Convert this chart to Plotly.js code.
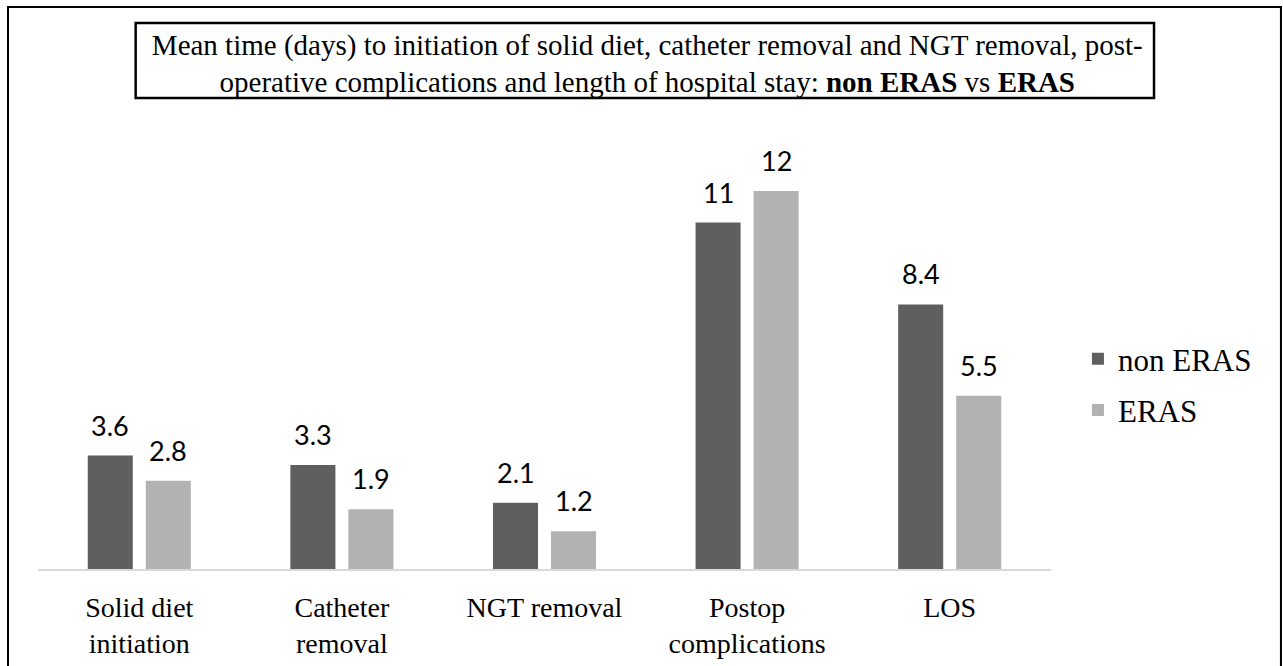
<!DOCTYPE html>
<html>
<head>
<meta charset="utf-8">
<script src="https://cdn.plot.ly/plotly-3.0.1.min.js"></script>
<style>html,body{margin:0;padding:0;background:#fff;}#chart{width:1283px;height:666px;}</style>
</head>
<body>
<div id="chart"></div>
<script>
const categories = ["Solid diet<br>initiation", "Catheter<br>removal", "NGT removal", "Postop<br>complications", "LOS"];
const nonEras = [3.6, 3.3, 2.1, 11, 8.4];
const eras = [2.8, 1.9, 1.2, 12, 5.5];
const seriesNames = ["non ERAS", "ERAS"];
const titleText = "Mean time (days) to initiation of solid diet, catheter removal and NGT removal, post-<br>operative complications and length of hospital stay: <b>non ERAS</b> vs <b>ERAS</b>";

const serif = "'Liberation Serif', 'Times New Roman', serif";
const sans = "Lato, Carlito, Calibri, sans-serif";

const traces = [
  {type: "bar", name: seriesNames[0], x: categories, y: nonEras, marker: {color: "#5f5f5f"}, legendgroup: "a", hoverinfo: "y"},
  {type: "bar", name: seriesNames[1], x: categories, y: eras, marker: {color: "#b2b2b2"}, legendgroup: "b", hoverinfo: "y"}
];

const annotations = [];
[nonEras, eras].forEach((vals, s) => {
  vals.forEach((v, i) => {
    annotations.push({
      x: categories[i], y: v, xref: "x", yref: "y",
      text: String(v), showarrow: false,
      xanchor: "center", yanchor: "bottom",
      xshift: s === 0 ? -29 : 29, yshift: 12,
      font: {family: sans, size: 27, color: "#000"}
    });
  });
});

const layout = {
  width: 1283, height: 666,
  margin: {l: 38, r: 232, t: 128, b: 97, pad: 0},
  paper_bgcolor: "#fff", plot_bgcolor: "#fff",
  title: {
    text: titleText,
    font: {family: serif, size: 29, color: "#000"},
    x: 0.5045, xanchor: "center", xref: "container",
    y: 0.918, yanchor: "middle", yref: "container"
  },
  barmode: "group", bargap: 0.427, bargroupgap: 0.224,
  xaxis: {
    showline: true, linecolor: "#d9d9d9", linewidth: 2,
    ticks: "", showgrid: false, zeroline: false,
    tickfont: {family: serif, size: 28, color: "#000"},
    ticklabelstandoff: 12, fixedrange: true
  },
  yaxis: {
    range: [0, 14], showticklabels: false, showgrid: false,
    zeroline: false, showline: false, ticks: "", fixedrange: true
  },
  showlegend: true,
  legend: {
    x: 1.0266, xanchor: "left", y: 0.418, yanchor: "middle",
    font: {family: serif, size: 31, color: "#000"},
    traceorder: "grouped", tracegroupgap: 8,
    bgcolor: "rgba(0,0,0,0)", borderwidth: 0
  },
  annotations: annotations,
  shapes: [
    {type: "rect", xref: "paper", yref: "paper", x0: -0.0296, x1: 1.2270, y0: -0.2517, y1: 1.2744,
     line: {color: "#000", width: 2}, fillcolor: "rgba(0,0,0,0)", layer: "above"},
    {type: "rect", xref: "paper", yref: "paper", x0: 0.0964, x1: 1.1017, y0: 1.068, y1: 1.2381,
     line: {color: "#000", width: 2.5}, fillcolor: "rgba(0,0,0,0)", layer: "above"}
  ]
};

Plotly.newPlot("chart", traces, layout, {displayModeBar: false, staticPlot: true});
</script>
</body>
</html>
